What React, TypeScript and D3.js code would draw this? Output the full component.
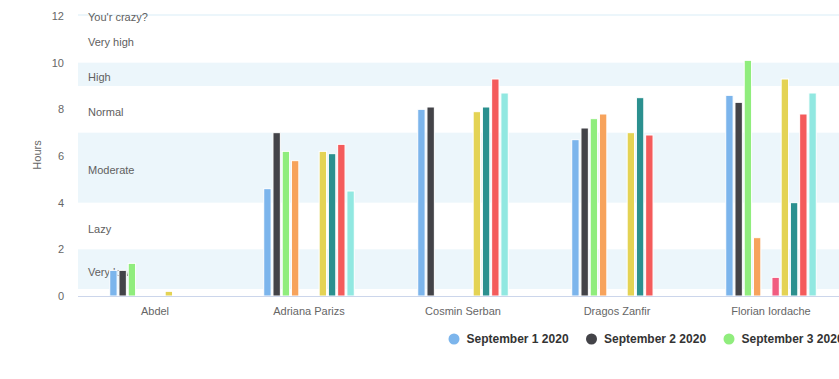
import React from "react";
import * as d3 from "d3";

const categories = ["Abdel", "Adriana Parizs", "Cosmin Serban", "Dragos Zanfir", "Florian Iordache"];
const seriesNames = [
  "September 1 2020", "September 2 2020", "September 3 2020", "September 4 2020", "September 5 2020",
  "September 6 2020", "September 7 2020", "September 8 2020", "September 9 2020", "September 10 2020",
];
const sep1 = [1.1, 4.6, 8.0, 6.7, 8.6];
const sep2 = [1.1, 7.0, 8.1, 7.2, 8.3];
const sep3 = [1.4, 6.2, null, 7.6, 10.1];
const sep4 = [null, 5.8, null, 7.8, 2.5];
const sep5 = [null, null, null, null, null];
const sep6 = [null, null, null, null, 0.8];
const sep7 = [0.2, 6.2, 7.9, 7.0, 9.3];
const sep8 = [null, 6.1, 8.1, 8.5, 4.0];
const sep9 = [null, 6.5, 9.3, 6.9, 7.8];
const sep10 = [null, 4.5, 8.7, null, 8.7];
const seriesValues: (number | null)[][] = [sep1, sep2, sep3, sep4, sep5, sep6, sep7, sep8, sep9, sep10];
const colors = ["#7cb5ec", "#434348", "#90ed7d", "#f7a35c", "#8085e9", "#f15c80", "#e4d354", "#2b908f", "#f45b5b", "#91e8e1"];
const yTicks = [0, 2, 4, 6, 8, 10, 12];
const bandLabels = ["Very low", "Lazy", "Moderate", "Normal", "High", "Very high", "You'r crazy?"];
const bandFrom = [0.3, 2, 4, 7, 9, 10, 12];
const bandTo = [2, 4, 7, 9, 10, 12, 12.1];
const bandFilled = [true, false, true, false, true, false, true];

const W = 839, H = 379;
const left = 78, right = 848, top = 14, bottom = 296;
const font = "'Liberation Sans', Arial, sans-serif";

export default function App() {
  const x = d3.scaleBand<string>().domain(categories).range([left, right]).padding(0);
  const w = x.bandwidth();
  const inner = d3.scaleBand<number>()
    .domain(d3.range(seriesNames.length))
    .range([w * 0.2, w * 0.8])
    .paddingInner(0.2)
    .paddingOuter(0.1);
  const y = d3.scaleLinear().domain([0, 12]).range([296, 16]);

  return (
    <svg width={W} height={H} style={{ position: "absolute", left: 0, top: 0, fontFamily: font }}>
      <defs>
        <clipPath id="plot">
          <rect x={left} y={top} width={right - left} height={bottom - top} />
        </clipPath>
      </defs>
      <g clipPath="url(#plot)">
        {bandFrom.map((f, i) =>
          bandFilled[i] ? (
            <rect key={i} x={left} width={right - left} y={y(bandTo[i])} height={y(f) - y(bandTo[i])} fill="rgba(68,170,213,0.1)" />
          ) : null
        )}
      </g>
      {bandLabels.map((l, i) => (
        <text key={l} x={left + 10} y={(y(bandFrom[i]) + y(bandTo[i])) / 2 + 2.5} dominantBaseline="central" fontSize={11} fill="#606060">
          {l}
        </text>
      ))}
      {yTicks.map((t) => (
        <text key={t} x={64} y={y(t)} textAnchor="end" dominantBaseline="central" fontSize={11} fill="#666666">
          {t}
        </text>
      ))}
      <text transform={`translate(37,${(top + bottom) / 2}) rotate(-90)`} textAnchor="middle" dominantBaseline="central" fontSize={11} fill="#666666">
        Hours
      </text>
      <g clipPath="url(#plot)">
        {seriesValues.map((vals, s) =>
          vals.map((v, c) =>
            v == null ? null : (
              <rect
                key={`${s}-${c}`}
                x={(x(categories[c]) as number) + (inner(s) as number)}
                width={inner.bandwidth()}
                y={y(v)}
                height={y(0) - y(v)}
                fill={colors[s]}
                stroke="#ffffff"
                strokeWidth={1}
              />
            )
          )
        )}
      </g>
      <line x1={left} x2={right} y1={bottom + 0.5} y2={bottom + 0.5} stroke="#ccd6eb" strokeWidth={1} />
      {categories.map((c) => (
        <text key={c} x={(x(c) as number) + w / 2} y={311} textAnchor="middle" dominantBaseline="central" fontSize={11} fill="#666666">
          {c}
        </text>
      ))}
      {seriesNames.map((n, i) => {
        const lx = 454 + i * 137.5;
        if (lx > W) return null;
        return (
          <g key={n}>
            <circle cx={lx} cy={339} r={5.5} fill={colors[i]} />
            <text x={lx + 12.5} y={339} dominantBaseline="central" fontSize={12} fontWeight="bold" fill="#333333">
              {n}
            </text>
          </g>
        );
      })}
    </svg>
  );
}
